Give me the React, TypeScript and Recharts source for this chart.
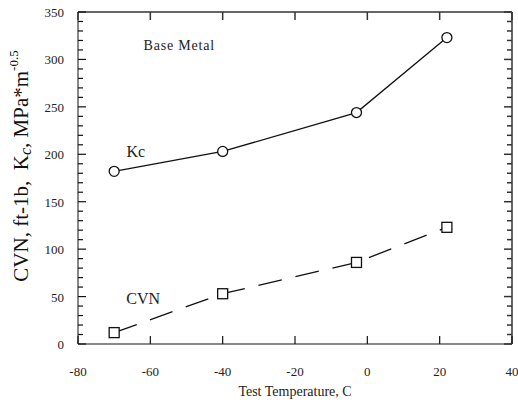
import React from "react";
import {
  LineChart,
  Line,
  XAxis,
  YAxis,
  ReferenceDot,
  ReferenceLine,
} from "recharts";

const temps = [-70, -40, -3, 22];
const kcValues = [182, 203, 244, 323];
const cvnValues = [12, 53, 86, 123];

const xTicks = [-80, -60, -40, -20, 0, 20, 40];
const yTicks = [
  0, 10, 20, 30, 40, 50, 60, 70, 80, 90, 100, 110, 120, 130, 140, 150, 160,
  170, 180, 190, 200, 210, 220, 230, 240, 250, 260, 270, 280, 290, 300, 310,
  320, 330, 340, 350,
];

const notes = [
  { x: -52, y: 315, text: "Base Metal", size: 14, spacing: 0.8 },
  { x: -64, y: 203, text: "Kc", size: 16, spacing: 0 },
  { x: -62, y: 48, text: "CVN", size: 16, spacing: 0 },
];

const data = temps.map((t, i) => ({ t, kc: kcValues[i], cvn: cvnValues[i] }));

const INK = "#111";
const FRAME = "#333";
const FONT = "'Liberation Serif', 'Times New Roman', serif";
const W = 518;
const H = 405;
const MARGIN = { top: 12, right: 6, bottom: 0, left: 30 };
const LEFT_MARGIN = 14;
const BOTTOM_MARGIN = 24;
const PLOT_RIGHT = W - MARGIN.right;
const PLOT_TOP = MARGIN.top;

// left tick + matching inward tick on the right frame edge
function LeftTick(props: any) {
  const { x, y, payload } = props;
  const v = payload.value;
  const major = v % 50 === 0;
  const len = major ? 8 : 5;
  const ax = x + LEFT_MARGIN;
  return (
    <g>
      <line x1={ax} x2={ax + len} y1={y} y2={y} stroke={INK} strokeWidth={1.2} />
      <line x1={PLOT_RIGHT} x2={PLOT_RIGHT - len} y1={y} y2={y} stroke={FRAME} strokeWidth={1.5} />
      {major && (
        <text x={x} y={y} dy={5} textAnchor="end" fontSize={13} fontFamily={FONT} fill="#222">
          {v}
        </text>
      )}
    </g>
  );
}

// bottom tick + matching inward tick on the top frame edge
function BottomTick(props: any) {
  const { x, y, payload } = props;
  const ay = y - BOTTOM_MARGIN;
  return (
    <g>
      <line x1={x} x2={x} y1={ay} y2={ay - 8} stroke={INK} strokeWidth={1.2} />
      <line x1={x} x2={x} y1={PLOT_TOP} y2={PLOT_TOP + 8} stroke={FRAME} strokeWidth={1.5} />
      <text x={x} y={y} dy={8} textAnchor="middle" fontSize={13} fontFamily={FONT} fill="#222">
        {payload.value}
      </text>
    </g>
  );
}

function Square(props: any) {
  const { cx, cy } = props;
  return (
    <rect x={cx - 5} y={cy - 5} width={10} height={10} fill="#fff" stroke={INK} strokeWidth={1.3} />
  );
}

function YLabel() {
  return (
    <text
      x={0}
      y={0}
      transform="translate(28 166) rotate(-90)"
      textAnchor="middle"
      fontSize={21}
      fontFamily={FONT}
      fill={INK}
      style={{ whiteSpace: "pre" }}
    >
      CVN, ft-1b,  K
      <tspan fontStyle="italic" fontSize={16} dy={3}>c</tspan>
      <tspan dy={-3}>, MPa*m</tspan>
      <tspan fontSize={13} dy={-10}>-0.5</tspan>
    </text>
  );
}

export default function App() {
  return (
    <div style={{ position: "absolute", left: 0, top: 0, background: "#fff" }}>
      <LineChart width={W} height={H} data={data} margin={MARGIN}>
        <XAxis
          xAxisId="b"
          dataKey="t"
          type="number"
          domain={[-80, 40]}
          ticks={xTicks}
          interval={0}
          height={61}
          tickSize={0}
          tickMargin={BOTTOM_MARGIN}
          tickLine={false}
          tick={<BottomTick />}
          stroke={INK}
          label={{
            value: "Test Temperature, C",
            position: "insideBottom",
            offset: 9,
            fontSize: 14,
            fontFamily: FONT,
            fill: "#222",
          }}
        />
        <YAxis
          yAxisId="l"
          type="number"
          domain={[0, 350]}
          ticks={yTicks}
          interval={0}
          width={48}
          tickSize={0}
          tickMargin={LEFT_MARGIN}
          tickLine={false}
          tick={<LeftTick />}
          stroke={INK}
          label={{ content: () => <YLabel /> }}
        />
        {/* top and right frame edges */}
        <ReferenceLine xAxisId="b" yAxisId="l" y={350} stroke={FRAME} strokeWidth={1.5} />
        <ReferenceLine xAxisId="b" yAxisId="l" x={40} stroke={FRAME} strokeWidth={1.5} />
        <Line
          xAxisId="b"
          yAxisId="l"
          dataKey="kc"
          stroke={INK}
          strokeWidth={1.3}
          dot={{ r: 5, fill: "#fff", stroke: INK, strokeWidth: 1.3 }}
          isAnimationActive={false}
        />
        <Line
          xAxisId="b"
          yAxisId="l"
          dataKey="cvn"
          stroke={INK}
          strokeWidth={1.3}
          strokeDasharray="24 14"
          dot={(p: any) => <Square {...p} key={`sq-${p.index}`} />}
          isAnimationActive={false}
        />
        {notes.map((n) => (
          <ReferenceDot
            key={n.text}
            xAxisId="b"
            yAxisId="l"
            x={n.x}
            y={n.y}
            r={0}
            stroke="none"
            label={{
              value: n.text,
              position: "center",
              fontSize: n.size,
              fontFamily: FONT,
              fill: "#222",
              letterSpacing: n.spacing,
            }}
          />
        ))}
      </LineChart>
    </div>
  );
}
